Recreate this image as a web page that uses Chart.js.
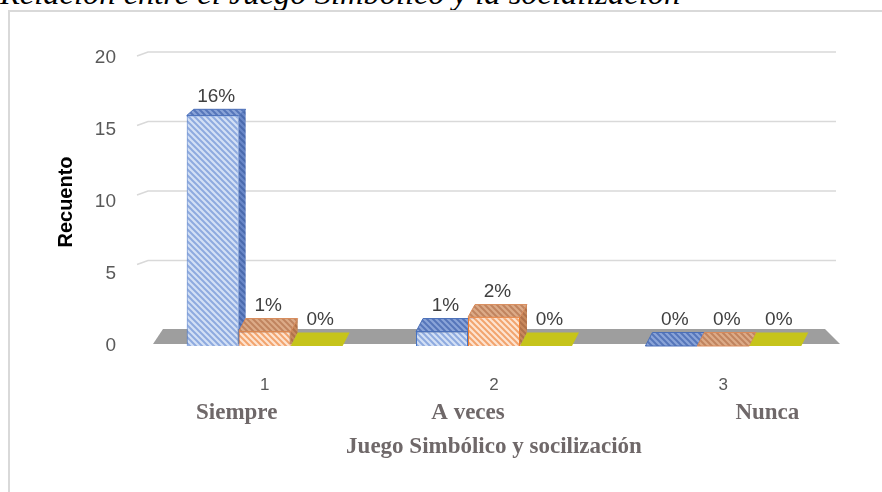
<!DOCTYPE html>
<html>
<head>
<meta charset="utf-8">
<script src="https://cdn.jsdelivr.net/npm/chart.js@4.4.1/dist/chart.umd.min.js"></script>
<style>
    html, body { margin: 0; padding: 0; background: #fff; }
    body { width: 882px; height: 492px; position: relative; overflow: hidden; }
    #title { position: absolute; left: 0; top: -23px; font: italic 32.5px/32px "Liberation Serif", serif; color: #000; white-space: nowrap; }
    #frame { position: absolute; left: 8px; top: 10px; width: 900px; height: 500px; border: 2px solid #d9d9d9; }
    #wrap { position: absolute; left: 0; top: 0; width: 882px; height: 492px; }
</style>
</head>
<body>
<div id="title">Relación entre el Juego Simbólico y la socialización</div>
<div id="frame"></div>
<div id="wrap"><canvas id="chart" width="882" height="492"></canvas></div>
<script>
const categories = ['1', '2', '3'];
const categoryNames = ['Siempre', 'A veces', 'Nunca'];
const seriesBlue = [16, 1, 0];
const seriesOrange = [1, 2, 0];
const seriesYellow = [0, 0, 0];
const yTicks = [0, 5, 10, 15, 20];

// names under the ticks sit a bit off-centre in the original
const nameNudge = [-28, -26, 44];
const DX = 7;

function hatch(bg, stripe, size = 6, lw = 2){
    const c = document.createElement('canvas');
    c.width = size; c.height = size;
    const g = c.getContext('2d');
    g.fillStyle = bg;
    g.fillRect(0, 0, size, size);
    g.strokeStyle = stripe;
    g.lineWidth = lw;
    g.beginPath();
    g.moveTo(0, 0); g.lineTo(size, size);
    g.moveTo(-size / 2, size / 2); g.lineTo(size / 2, size * 1.5);
    g.moveTo(size / 2, -size / 2); g.lineTo(size * 1.5, size / 2);
    g.stroke();
    return g.createPattern(c, 'repeat');
}

function barDepth(area, y){
    return 4.5 + (y - area.top) * 9 / (area.bottom - area.top);
}

// back wall grid + floor + side/top faces of the bars
const depthPlugin = {
    id: 'depth3d',
    beforeDatasetsDraw(chart){
        const {ctx, chartArea: a, scales: {y: ys}} = chart;
        ctx.save();

        ctx.strokeStyle = '#d9d9d9';
        ctx.lineWidth = 1.5;
        yTicks.forEach(v => {
            if (v === 0) return;
            const yf = ys.getPixelForValue(v);
            const yb = yf - (6 + (yf - a.top) * 10 / (a.bottom - a.top));
            ctx.beginPath();
            ctx.moveTo(a.left - 13, yb + 4);
            ctx.lineTo(a.left - 2, yb);
            ctx.lineTo(a.right - 2, yb);
            ctx.stroke();
        });

        const y0 = ys.getPixelForValue(0);
        ctx.fillStyle = '#9e9e9e';
        ctx.beginPath();
        ctx.moveTo(a.left + 3, y0 - 2);
        ctx.lineTo(a.left + 13, y0 - 17);
        ctx.lineTo(a.right - 13, y0 - 17);
        ctx.lineTo(a.right + 2, y0 - 2);
        ctx.closePath();
        ctx.fill();

        chart.data.datasets.forEach((ds, i) => {
            const meta = chart.getDatasetMeta(i);
            meta.data.forEach(bar => {
                const {x, y, base, width} = bar.getProps(['x', 'y', 'base', 'width'], true);
                const l = x - width / 2, r = x + width / 2;
                const d = barDepth(a, y);
                const db = barDepth(a, base);
                if (base - y > 0.5) {
                    ctx.fillStyle = ds.sideColor;
                    ctx.beginPath();
                    ctx.moveTo(r, y);
                    ctx.lineTo(r + DX, y - d);
                    ctx.lineTo(r + DX, base - db);
                    ctx.lineTo(r, base);
                    ctx.closePath();
                    ctx.fill();
                }
                ctx.fillStyle = ds.topColor;
                ctx.beginPath();
                ctx.moveTo(l, y);
                ctx.lineTo(l + DX, y - d);
                ctx.lineTo(r + DX, y - d);
                ctx.lineTo(r, y);
                ctx.closePath();
                ctx.fill();
                if (ds.edgeColor) {
                    ctx.strokeStyle = ds.edgeColor;
                    ctx.lineWidth = 1;
                    ctx.stroke();
                }
            });
        });
        ctx.restore();
    },
    afterDatasetsDraw(chart){
        const {ctx, chartArea: a} = chart;
        ctx.save();
        ctx.font = '19px "Liberation Sans", Arial, sans-serif';
        ctx.fillStyle = '#404040';
        ctx.textAlign = 'center';
        ctx.textBaseline = 'bottom';
        chart.data.datasets.forEach((ds, i) => {
            chart.getDatasetMeta(i).data.forEach((bar, j) => {
                const {x, y} = bar.getProps(['x', 'y'], true);
                ctx.fillText(ds.data[j] + '%', x + DX / 2, y - barDepth(a, y) - 3);
            });
        });
        ctx.restore();
    },
    afterDraw(chart){
        const {ctx, chartArea: a, scales: {x: xs}} = chart;
        ctx.save();
        ctx.font = 'bold 23px "Liberation Serif", "Times New Roman", serif';
        ctx.fillStyle = '#6f6869';
        ctx.textAlign = 'center';
        ctx.textBaseline = 'alphabetic';
        categoryNames.forEach((name, i) => {
            ctx.fillText(name, xs.getPixelForValue(i) + nameNudge[i], a.bottom + 73);
        });
        ctx.restore();
    }
};

const blueFront = hatch('#d3e0f5', '#8eaadf');
const blueSide = hatch('#6a88c8', '#4a6aad');
const blueTop = hatch('#8aa4d8', '#5676ba');
const orangeFront = hatch('#fde3d0', '#f2a46e');
const orangeSide = hatch('#c98a5e', '#b0714a');
const orangeTop = hatch('#dcab88', '#c0845f');

const ctx = document.getElementById('chart').getContext('2d');

new Chart(ctx, {
    type: 'bar',
    data: {
        labels: categories,
        datasets: [
            {
                label: 'Serie 1',
                data: seriesBlue,
                backgroundColor: blueFront,
                borderColor: '#4472c4',
                borderWidth: 1,
                sideColor: blueSide,
                topColor: blueTop,
                edgeColor: '#4a6fb8'
            },
            {
                label: 'Serie 2',
                data: seriesOrange,
                backgroundColor: orangeFront,
                borderColor: '#ed7d31',
                borderWidth: 1,
                sideColor: orangeSide,
                topColor: orangeTop,
                edgeColor: '#d88a5a'
            },
            {
                label: 'Serie 3',
                data: seriesYellow,
                backgroundColor: '#c8c81c',
                borderWidth: 0,
                sideColor: '#a9a815',
                topColor: '#c6c41b'
            }
        ]
    },
    options: {
        responsive: false,
        animation: false,
        devicePixelRatio: 1,
        categoryPercentage: 0.68,
        barPercentage: 1,
        layout: {
            padding: { top: 58, left: 50, right: 44, bottom: 26 }
        },
        plugins: {
            legend: { display: false },
            tooltip: { enabled: false }
        },
        scales: {
            x: {
                grid: { display: false },
                border: { display: false },
                ticks: {
                    padding: 21,
                    color: '#595959',
                    font: { family: '"Liberation Sans", Arial, sans-serif', size: 17 }
                },
                title: {
                    display: true,
                    text: 'Juego Simbólico y socilización',
                    color: '#6f6869',
                    font: { family: '"Liberation Serif", "Times New Roman", serif', size: 23, weight: 'bold' },
                    padding: { top: 0, bottom: 5 }
                },
                afterFit: s => { s.height = 120; }
            },
            y: {
                min: 0,
                max: 20,
                grid: { display: false },
                border: { display: false },
                afterBuildTicks: s => { s.ticks = yTicks.map(v => ({ value: v })); },
                ticks: {
                    padding: 26,
                    color: '#595959',
                    font: { family: '"Liberation Sans", Arial, sans-serif', size: 19 }
                },
                title: {
                    display: true,
                    text: 'Recuento',
                    color: '#000',
                    font: { family: '"Liberation Sans", Arial, sans-serif', size: 20, weight: 'bold' },
                    padding: { top: 4, bottom: 0 }
                },
                afterFit: s => { s.width = 100; }
            }
        }
    },
    plugins: [depthPlugin]
});
</script>
</body>
</html>
